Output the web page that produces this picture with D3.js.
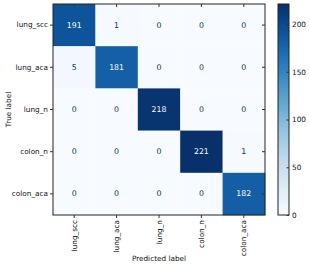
<!DOCTYPE html>
<html><head><meta charset="utf-8">
<script src="https://cdn.jsdelivr.net/npm/d3@7"></script>
<style>body{margin:0;background:#fff}svg{display:block}text{font-family:"DejaVu Sans",sans-serif}</style>
</head><body><svg id="c" width="310" height="269"></svg>
<script>
const labels = ["lung_scc","lung_aca","lung_n","colon_n","colon_aca"];
const matrix = [
  [191,1,0,0,0],
  [5,181,0,0,0],
  [0,0,218,0,0],
  [0,0,0,221,1],
  [0,0,0,0,182]
];
const cbTicks = [0,50,100,150,200];

const svg = d3.select("#c");
const L=53, T=4, W=212, H=211;
const vmax = d3.max(matrix.flat()), vmin = d3.min(matrix.flat());
const color = v => d3.interpolateBlues((v - vmin)/(vmax - vmin));
const x = d3.scaleBand().domain(labels).range([L, L+W]);
const y = d3.scaleBand().domain(labels).range([T, T+H]);

const cells = [];
matrix.forEach((row,i)=>row.forEach((v,j)=>cells.push({r:labels[i],c:labels[j],v})));
svg.append("g").selectAll("rect").data(cells).join("rect")
  .attr("x",d=>x(d.c)).attr("y",d=>y(d.r))
  .attr("width",x.bandwidth()+0.3).attr("height",y.bandwidth()+0.3)
  .attr("fill",d=>color(d.v));
const thresh = (vmax+vmin)/2;
svg.append("g").selectAll("text").data(cells).join("text")
  .attr("x",d=>x(d.c)+x.bandwidth()/2).attr("y",d=>y(d.r)+y.bandwidth()/2)
  .attr("text-anchor","middle").attr("dominant-baseline","central")
  .attr("font-size",7.8)
  .attr("fill",d=>d.v>thresh?d3.interpolateBlues(0):d3.interpolateBlues(1))
  .text(d=>d.v);

// frame
svg.append("rect").attr("x",L).attr("y",T).attr("width",W).attr("height",H)
  .attr("fill","none").attr("stroke","#222").attr("stroke-width",1);

// axes
const gx = svg.append("g").attr("transform",`translate(0,${T+H})`)
  .call(d3.axisBottom(x).tickSize(3).tickPadding(2));
gx.select(".domain").remove();
gx.selectAll("text").attr("font-size",7.3).attr("fill","#111")
  .attr("transform","rotate(-90)").attr("text-anchor","end")
  .attr("x",-5).attr("y",0).attr("dy","0.35em");
const gy = svg.append("g").attr("transform",`translate(${L},0)`)
  .call(d3.axisLeft(y).tickSize(3).tickPadding(2));
gy.select(".domain").remove();
gy.selectAll("text").attr("font-size",7.3).attr("fill","#111");
// inner ticks top/right
const gt = svg.append("g").attr("transform",`translate(0,${T})`)
  .call(d3.axisTop(x).tickSize(-3).tickFormat(""));
gt.select(".domain").remove();
const gr = svg.append("g").attr("transform",`translate(${L+W},0)`)
  .call(d3.axisRight(y).tickSize(-3).tickFormat(""));
gr.select(".domain").remove();
svg.selectAll(".tick line").attr("stroke","#333");

svg.append("text").attr("x",L+W/2).attr("y",261).attr("text-anchor","middle")
  .attr("font-size",7.3).attr("fill","#111").text("Predicted label");
svg.append("text").attr("transform",`translate(11,${T+H/2}) rotate(-90)`)
  .attr("text-anchor","middle").attr("font-size",7.3).attr("fill","#111").text("True label");

// colorbar
const CX=278, CW=11;
const cy = d3.scaleLinear().domain([vmin,vmax]).range([T+H, T]);
const defs = svg.append("defs");
const grad = defs.append("linearGradient").attr("id","g").attr("x1",0).attr("x2",0).attr("y1",1).attr("y2",0);
d3.range(0,1.0001,0.05).forEach(t=>grad.append("stop").attr("offset",t).attr("stop-color",d3.interpolateBlues(t)));
svg.append("rect").attr("x",CX).attr("y",T).attr("width",CW).attr("height",H)
  .attr("fill","url(#g)").attr("stroke","#222").attr("stroke-width",1);
const gc = svg.append("g").attr("transform",`translate(${CX+CW},0)`)
  .call(d3.axisRight(cy).tickValues(cbTicks).tickSize(-2.5).tickPadding(3));
gc.select(".domain").remove();
gc.selectAll("text").attr("font-size",7.3).attr("fill","#111");
gc.selectAll("line").attr("stroke","#333");
</script></body></html>
